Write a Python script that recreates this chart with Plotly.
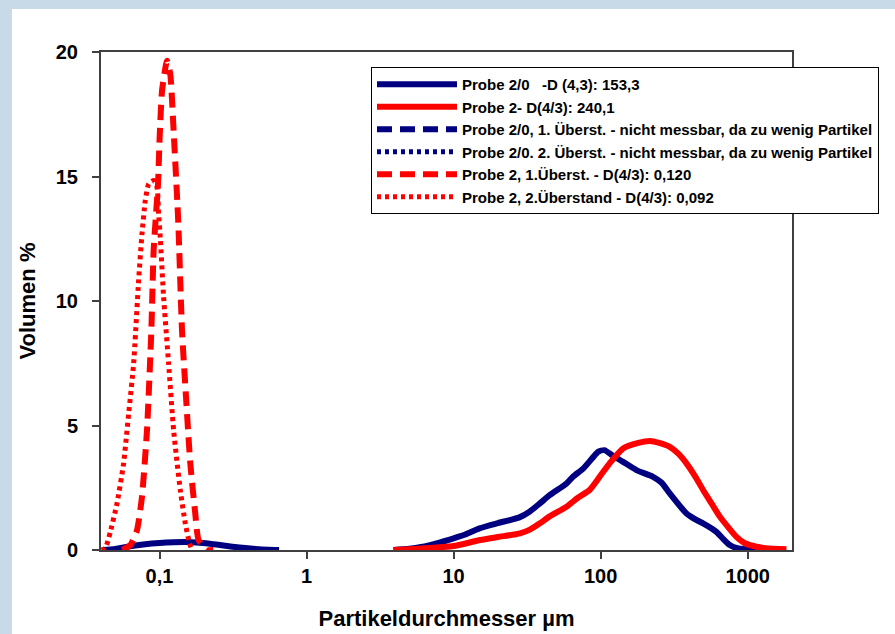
import plotly.graph_objects as go

# ---------------- data ----------------
blue_solid_x = [0.041, 0.05, 0.063, 0.08, 0.1, 0.125, 0.15, 0.18, 0.22, 0.28, 0.35, 0.45, 0.55, 0.65,
                None,
                3.9, 5, 6, 8, 10, 12, 15, 20, 28, 33, 38.6, 45, 58.6, 65, 76, 88, 96, 106, 120, 142, 175,
                227, 260, 295, 383, 450, 497, 612, 680, 755, 850, 980, 1200, 1500, 1800]
blue_solid_y = [0, 0.04, 0.15, 0.23, 0.28, 0.31, 0.32, 0.3, 0.25, 0.17, 0.1, 0.04, 0.01, 0,
                None,
                0, 0.05, 0.12, 0.3, 0.47, 0.62, 0.87, 1.08, 1.31, 1.55, 1.87, 2.2, 2.67, 2.95, 3.27, 3.7,
                3.94, 4.01, 3.8, 3.54, 3.21, 2.94, 2.7, 2.27, 1.47, 1.2, 1.07, 0.73, 0.45, 0.2, 0.07,
                0.03, 0.01, 0, 0]

red_solid_x = [3.9, 5, 6, 8, 10, 15.2, 20, 28.3, 33, 38.6, 45, 58.6, 70, 84, 100, 115, 142, 180, 216,
               250, 295, 340, 383, 440, 497, 570, 646, 740, 838, 950, 1146, 1400, 1833]
red_solid_y = [0, 0.03, 0.06, 0.11, 0.16, 0.4, 0.52, 0.67, 0.82, 1.07, 1.35, 1.74, 2.1, 2.41, 3.0, 3.48,
               4.08, 4.3, 4.38, 4.3, 4.14, 3.85, 3.48, 2.95, 2.41, 1.85, 1.34, 0.9, 0.53, 0.28, 0.13,
               0.06, 0.03]

red_dash_x = [0.0559, 0.0634, 0.0703, 0.076, 0.0822, 0.088, 0.0912, 0.0977, 0.1002, 0.104, 0.1124,
              0.1184, 0.1247, 0.1327, 0.1348, 0.1422, 0.1514, 0.1619, 0.175, 0.1843, 0.2103, 0.232]
red_dash_y = [0, 0.2, 0.8, 2.14, 4.81, 8.82, 12.03, 14.7, 16.57, 18.44, 19.65,
              19.1, 16.84, 13.77, 12.83, 8.82, 6.15, 3.48, 1.47, 0.4, 0, 0]

red_dot_x = [0.0403, 0.0428, 0.0463, 0.0514, 0.057, 0.0617, 0.0667, 0.0721, 0.076, 0.08, 0.0844, 0.0912,
             0.0962, 0.0986, 0.1013, 0.1066, 0.1153, 0.1247, 0.1384, 0.1497, 0.16, 0.167]
red_dot_y = [0, 0.07, 0.73, 1.87, 3.48, 5.48, 7.49, 10.83, 12.7, 14.03, 14.7, 14.84,
             14.57, 13.5, 12.5, 10.16, 7.49, 4.81, 2.41, 1.07, 0.27, 0]

legend_names = [
    "Probe 2/0   -D (4,3): 153,3",
    "Probe 2- D(4/3): 240,1",
    "Probe 2/0, 1. Überst. - nicht messbar, da zu wenig Partikel",
    "Probe 2/0. 2. Überst. - nicht messbar, da zu wenig Partikel",
    "Probe 2, 1.Überst. - D(4/3): 0,120",
    "Probe 2, 2.Überstand - D(4/3): 0,092",
]

x_tickvals = [0.1, 1, 10, 100, 1000]
x_ticktext = ["0,1", "1", "10", "100", "1000"]
y_tickvals = [0, 5, 10, 15, 20]

BLUE = "#000080"
RED = "#FF0000"
FONT = "Liberation Sans"

fig = go.Figure()
fig.add_trace(go.Scatter(x=blue_solid_x, y=blue_solid_y, mode="lines", name=legend_names[0],
                         line=dict(color=BLUE, width=6, shape="spline", smoothing=0.6), connectgaps=False))
fig.add_trace(go.Scatter(x=red_solid_x, y=red_solid_y, mode="lines", name=legend_names[1],
                         line=dict(color=RED, width=6, shape="spline", smoothing=0.6)))
fig.add_trace(go.Scatter(x=[None], y=[None], mode="lines", name=legend_names[2],
                         line=dict(color=BLUE, width=6, dash="15px,8px")))
fig.add_trace(go.Scatter(x=[None], y=[None], mode="lines", name=legend_names[3],
                         line=dict(color=BLUE, width=5, dash="4px,4px")))
fig.add_trace(go.Scatter(x=red_dash_x, y=red_dash_y, mode="lines", name=legend_names[4],
                         line=dict(color=RED, width=6, dash="15px,8px", shape="spline", smoothing=0.5)))
fig.add_trace(go.Scatter(x=red_dot_x, y=red_dot_y, mode="lines", name=legend_names[5],
                         line=dict(color=RED, width=5, dash="4px,4px", shape="spline", smoothing=0.5)))

fig.update_layout(
    width=895, height=634,
    margin=dict(l=101, r=103, t=52, b=84, pad=0, autoexpand=False),
    paper_bgcolor="#C8DAE8",
    plot_bgcolor="white",
    font=dict(family=FONT, color="black"),
    showlegend=True,
    legend=dict(
        x=(371 - 101) / 691, y=(550 - 67) / 498, xanchor="left", yanchor="top",
        bgcolor="white", bordercolor="black", borderwidth=1,
        font=dict(family=FONT, size=15, weight="bold", color="black"),
        itemwidth=80, tracegroupgap=0,
    ),
    shapes=[dict(type="rect", xref="paper", yref="paper",
                 x0=(12 - 101) / 691, x1=1.3, y0=-0.3, y1=(550 - 9) / 498,
                 fillcolor="white", line=dict(width=0), layer="below")],
)

fig.update_xaxes(
    type="log", range=[-1.3979, 3.301],
    tickvals=x_tickvals, ticktext=x_ticktext,
    ticks="outside", ticklen=7, tickcolor="#404040", tickwidth=1.5,
    showline=True, linecolor="#404040", linewidth=2, mirror=True,
    showgrid=False, zeroline=False, ticklabelstandoff=0,
    tickfont=dict(family=FONT, size=20, weight="bold"),
    title=dict(text="Partikeldurchmesser µm", font=dict(family=FONT, size=22, weight="bold"), standoff=25),
)
fig.update_yaxes(
    range=[0, 20], tickvals=y_tickvals,
    ticks="outside", ticklen=7, tickcolor="#404040", tickwidth=1.5,
    showline=True, linecolor="#404040", linewidth=2, mirror=True,
    showgrid=False, zeroline=False, ticklabelstandoff=10,
    tickfont=dict(family=FONT, size=20, weight="bold"),
    title=dict(text="Volumen %", font=dict(family=FONT, size=22, weight="bold"), standoff=14),
)

fig.write_html("out.html", config={"displayModeBar": False},
               post_script="document.body.style.margin='0px';")
